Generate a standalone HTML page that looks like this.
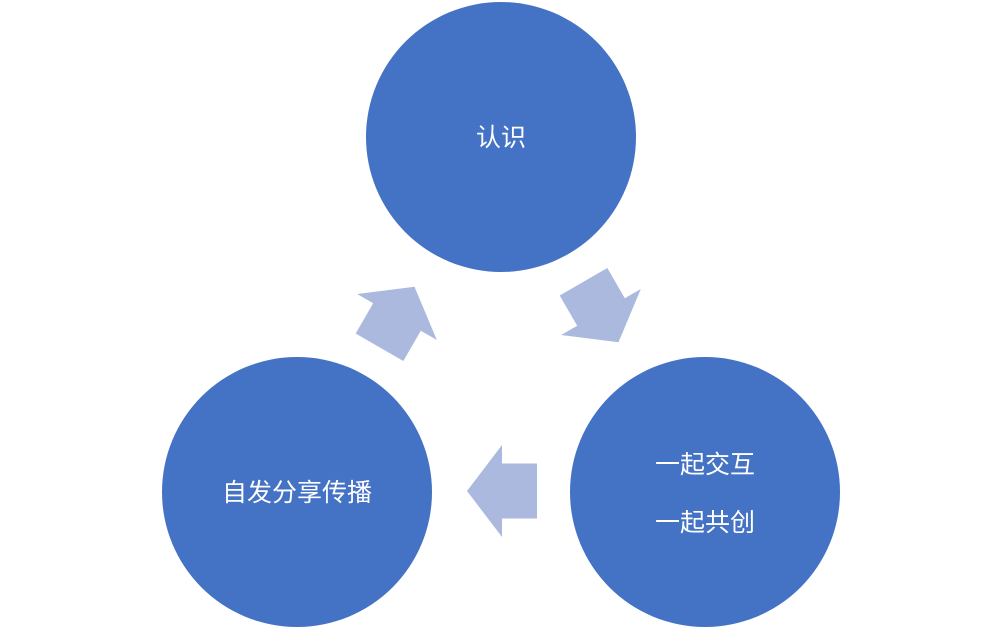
<!DOCTYPE html>
<html><head><meta charset="utf-8"><style>
html,body{margin:0;padding:0;background:#fff;}
</style></head><body>
<svg width="1000" height="630" viewBox="0 0 1000 630" xmlns="http://www.w3.org/2000/svg" style="display:block">
<circle cx="501" cy="137" r="135" fill="#4472c4"/>
<circle cx="297" cy="492" r="135" fill="#4472c4"/>
<circle cx="705" cy="492" r="135" fill="#4472c4"/>
<g fill="#abb9de">
<polygon transform="translate(502,491)" points="-35,0 0,-46 0,-27.5 35,-27.5 35,27.5 0,27.5 0,46"/>
<polygon transform="translate(397,317) rotate(120)" points="-35,0 0,-46 0,-27.5 35,-27.5 35,27.5 0,27.5 0,46"/>
<polygon transform="translate(601,312) rotate(-120)" points="-35,0 0,-46 0,-27.5 35,-27.5 35,27.5 0,27.5 0,46"/>
</g>
<g fill="#fff" font-family="'Liberation Sans','Noto Sans CJK SC',sans-serif" font-size="25" text-anchor="middle">
<text x="501" y="146">认识</text>
<text x="297" y="501">自发分享传播</text>
<text x="705" y="473">一起交互</text>
<text x="705" y="531">一起共创</text>
</g>
</svg>
</body></html>
